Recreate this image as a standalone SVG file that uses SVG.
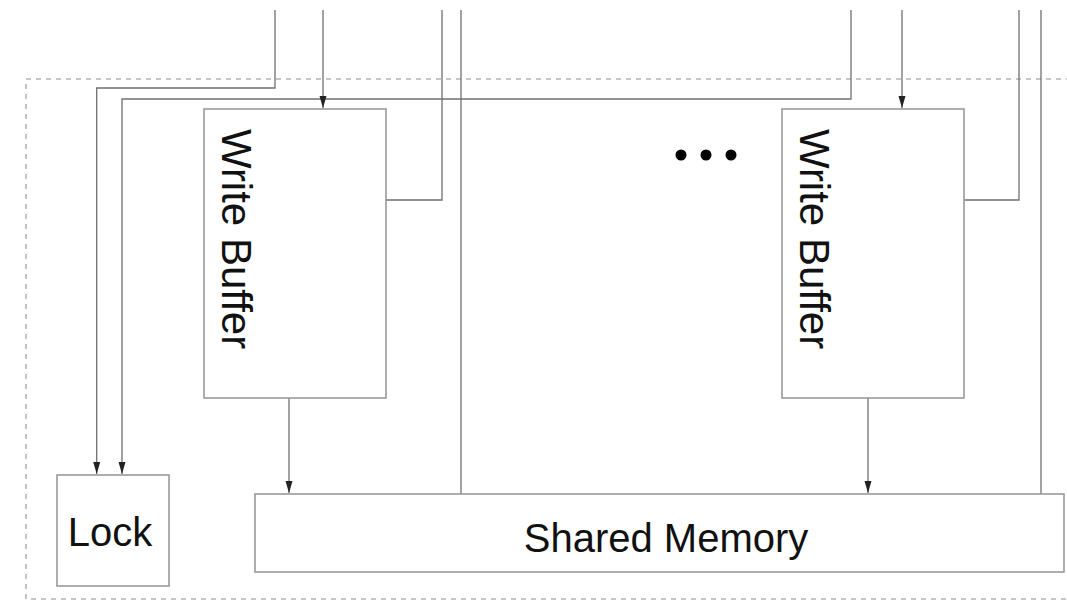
<svg xmlns="http://www.w3.org/2000/svg" width="1067" height="600" viewBox="0 0 1067 600">
<style>
.frame{fill:none;stroke:#b5b5b5;stroke-width:1.6;stroke-dasharray:5,5}
.box{fill:#fff;stroke:#9a9a9a;stroke-width:1.6}
.wire{fill:none;stroke:#707070;stroke-width:1.3}
.lbl{font-family:"Liberation Sans",Arial,Helvetica,sans-serif;fill:#111}
</style>
<defs>
<marker id="arr" markerUnits="userSpaceOnUse" markerWidth="13" markerHeight="8" refX="12" refY="3.5" orient="auto">
<path d="M0,0 L12,3.5 L0,7 z" fill="#222"/>
</marker>
</defs>
<rect width="1067" height="600" fill="#fff"/>
<rect class="frame" x="26" y="79" width="1100" height="520"/>
<g id="connectors">
<path class="wire" d="M275,10 V88 H96.7 V474" marker-end="url(#arr)"/>
<path class="wire" d="M851,10 V99 H122 V474" marker-end="url(#arr)"/>
<path class="wire" d="M323,10 V108" marker-end="url(#arr)"/>
<path class="wire" d="M442,10 V200 H386"/>
<path class="wire" d="M461,10 V494"/>
<path class="wire" d="M289,398 V493" marker-end="url(#arr)"/>
<path class="wire" d="M902,10 V108" marker-end="url(#arr)"/>
<path class="wire" d="M1019,10 V200 H964"/>
<path class="wire" d="M1041,10 V494"/>
<path class="wire" d="M868,398 V493" marker-end="url(#arr)"/>
</g>
<g id="wb1">
<rect class="box" x="204" y="109" width="182" height="289"/>
<text class="lbl" font-size="42" transform="translate(222,129) rotate(90)">Write Buffer</text>
</g>
<g id="wb2">
<rect class="box" x="782" y="109" width="182" height="289"/>
<text class="lbl" font-size="42" transform="translate(800,129) rotate(90)">Write Buffer</text>
</g>
<g id="dots">
<circle cx="681" cy="155" r="5.5" fill="#000"/>
<circle cx="706" cy="155" r="5.5" fill="#000"/>
<circle cx="731" cy="155" r="5.5" fill="#000"/>
</g>
<g id="lock">
<rect class="box" x="57" y="475" width="112" height="111"/>
<text class="lbl" font-size="40" x="110" y="546" text-anchor="middle">Lock</text>
</g>
<g id="shared-memory">
<rect class="box" x="255" y="494" width="809" height="78"/>
<text class="lbl" font-size="40" x="666" y="552" text-anchor="middle">Shared Memory</text>
</g>
</svg>
